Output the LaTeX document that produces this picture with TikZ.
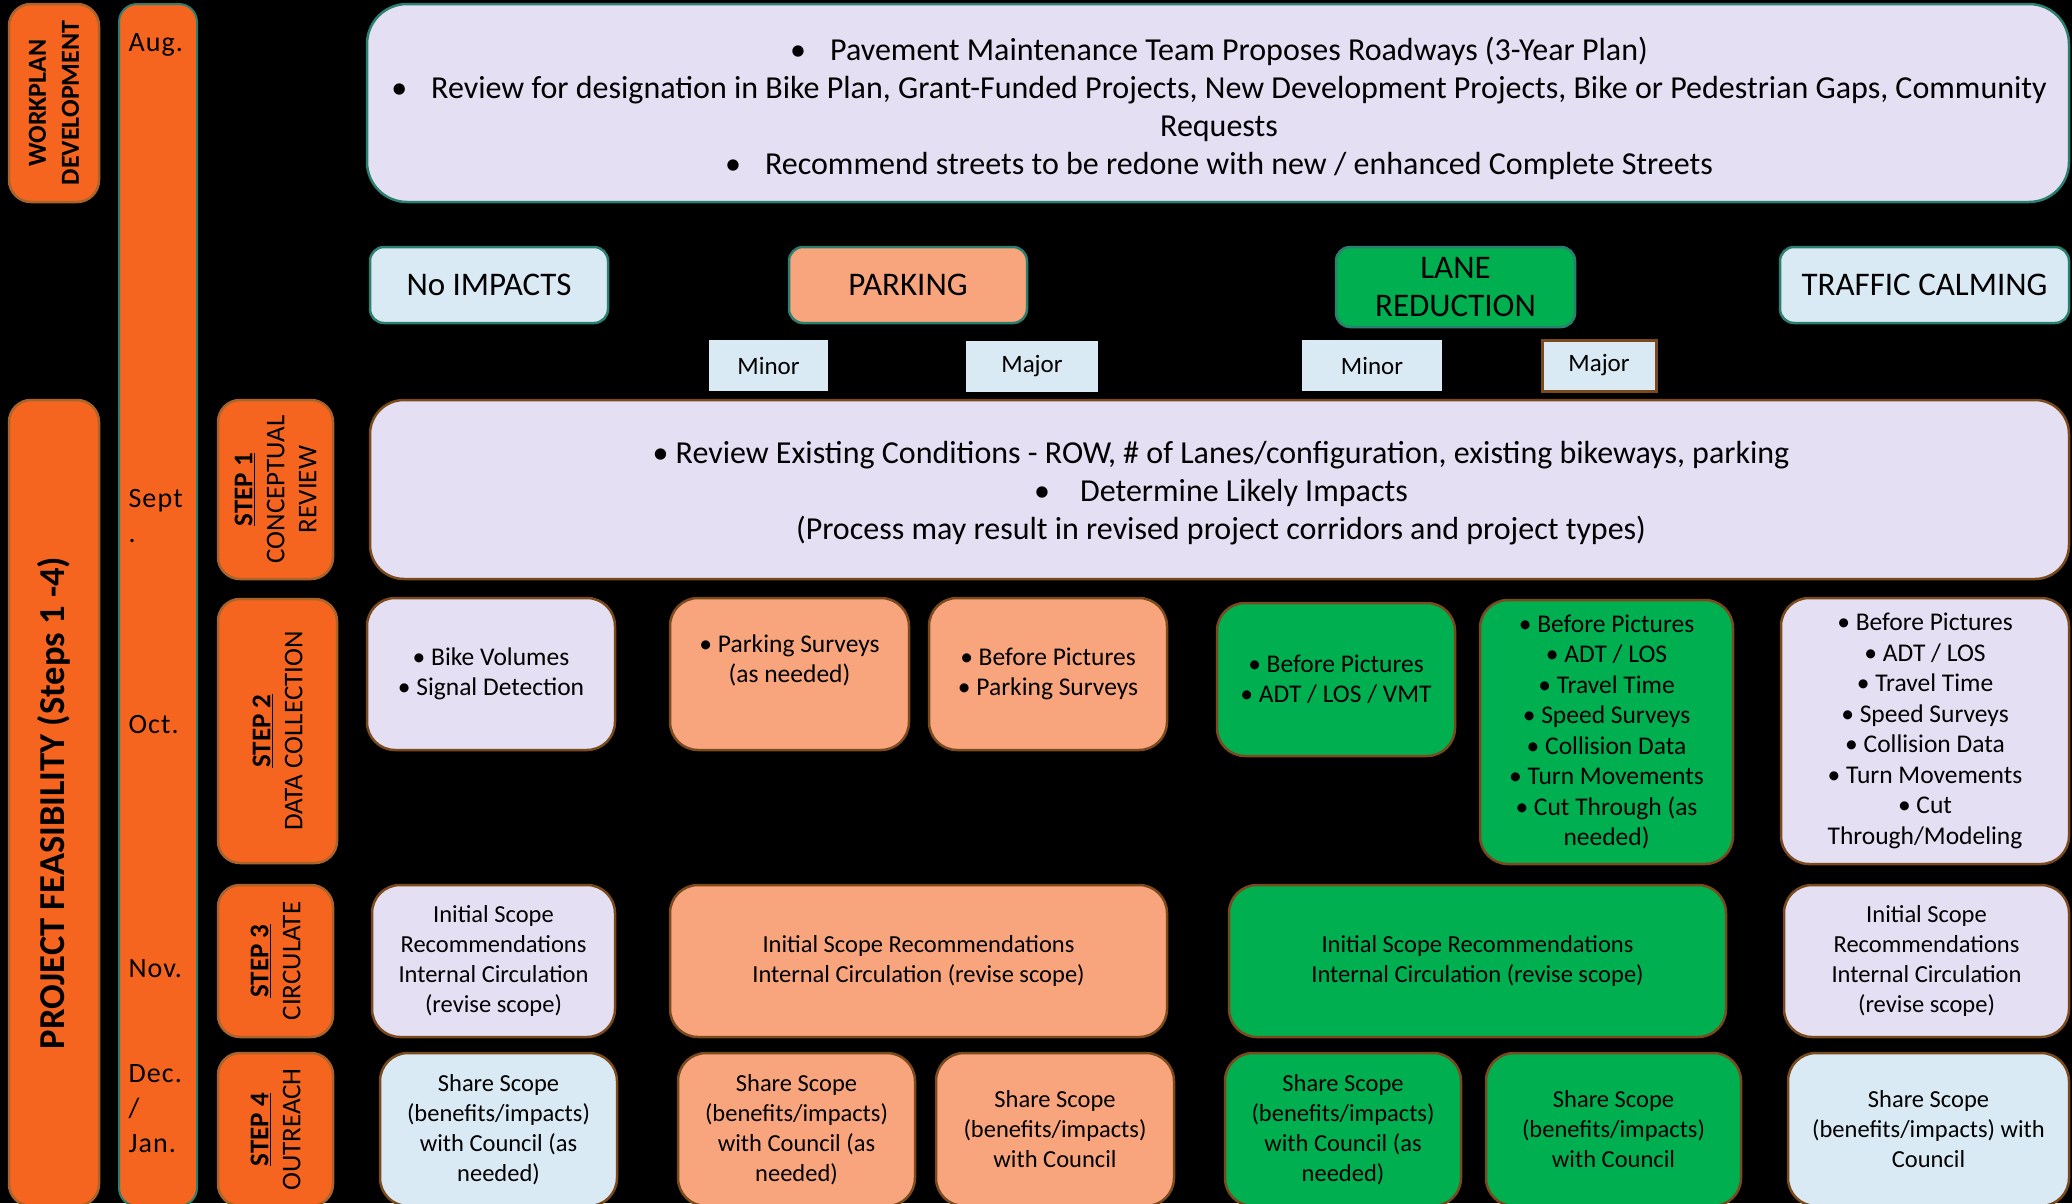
\documentclass[tikz,border=0pt]{standalone}
\usepackage{fontspec}
\setmainfont{Carlito}
\usetikzlibrary{positioning}

\definecolor{orng}{HTML}{F6651F}
\definecolor{orngline}{HTML}{A8642A}
\definecolor{lav}{HTML}{E5DFF3}
\definecolor{sky}{HTML}{DAEAF5}
\definecolor{salm}{HTML}{F8A57D}
\definecolor{grn}{HTML}{00AF50}
\definecolor{tealline}{HTML}{2B7F6E}
\definecolor{brn}{HTML}{7A4A1C}

\newcommand\cellfont{\fontsize{24.5}{30}\selectfont}
\newcommand\datafont{\fontsize{25.5}{30.5}\selectfont}
\newcommand\bigfont{\fontsize{32}{38}\selectfont}
\newcommand\catfont{\fontsize{33}{38}\selectfont}
\newcommand\stepfont{\fontsize{27}{32}\selectfont}
\newcommand\monthfont{\fontsize{28}{35}\selectfont\addfontfeature{LetterSpace=4}}

\tikzset{
  cellbox/.style={draw=brn, line width=2.5pt, rounded corners=28pt, align=center,
    inner sep=0pt, outer sep=0pt, font=\cellfont, minimum height=152pt},
  databox/.style={cellbox, font=\datafont},
  catbox/.style={draw=tealline, line width=2.5pt, rounded corners=14pt, align=center,
    inner sep=0pt, outer sep=0pt, font=\catfont, minimum height=76pt},
  tagbox/.style={fill=sky, inner sep=0pt, outer sep=0pt, font=\fontsize{25}{30}\selectfont,
    minimum height=51pt},
  stepbox/.style={fill=orng, draw=orngline, line width=2.5pt, rounded corners=22pt,
    inner sep=0pt, outer sep=0pt, minimum width=115pt},
  steptext/.style={rotate=90, align=center, font=\stepfont},
  monthtext/.style={anchor=west, align=left, font=\monthfont}
}

\begin{document}
\begin{tikzpicture}[x=1pt,y=-1pt]
\useasboundingbox (0,0) rectangle (2072,1203);
\fill[black] (0,0) rectangle (2072,1203);

% left columns
\node[stepbox, minimum width=90pt, minimum height=198pt](work) at (54,103){};
\node[rotate=90, align=center, font=\fontsize{26}{33}\selectfont\bfseries] at (work.center){WORKPLAN\\DEVELOPMENT};
\node[fill=orng, draw=tealline, line width=2pt, rounded corners=18pt, minimum width=78pt,
  minimum height=1202pt, inner sep=0pt](months) at (158,605){};
\node[stepbox, minimum width=90pt, minimum height=806pt](feas) at (54,803){};
\node[rotate=90, font=\fontsize{36.5}{40}\selectfont\bfseries] at (feas.center){PROJECT FEASIBILITY (Steps 1 -4)};

% months
\node[monthtext](aug) at (125,45){Aug.};
\node[monthtext](sep) at (125,516){Sept\\.};
\node[monthtext](oct) at (125,725){Oct.};
\node[monthtext](nov) at (125,969){Nov.};
\node[monthtext](dec) at (125,1109){Dec.\\/\\Jan.};

% steps
\node[stepbox, minimum height=179pt](s1) at (275.5,489.5){};
\node[steptext] at (s1.center){\underline{\textbf{STEP 1}}\\CONCEPTUAL\\REVIEW};
\node[stepbox, minimum width=119pt, minimum height=264pt](s2) at (277.5,731){};
\node[steptext] at (s2.center){\underline{\textbf{STEP 2}}\\DATA COLLECTION};
\node[stepbox, minimum height=152pt](s3) at (275.5,961){};
\node[steptext] at (s3.center){\underline{\textbf{STEP 3}}\\CIRCULATE};
\node[stepbox, minimum height=153pt](s4) at (275.5,1129.5){};
\node[steptext] at (s4.center){\underline{\textbf{STEP 4}}\\OUTREACH};

% workplan box
\node[cellbox, draw=tealline, fill=lav, rounded corners=40pt, minimum width=1702pt,
  minimum height=198pt, font=\bigfont](plan) at (1218,103){};
\node[align=center, font=\bigfont] at (1219,108){%
  \textbullet\hspace{24pt}Pavement Maintenance Team Proposes Roadways (3-Year Plan)\\
  \textbullet\hspace{24pt}Review for designation in Bike Plan, Grant-Funded Projects, New Development Projects, Bike or Pedestrian Gaps, Community\\
  Requests\\
  \textbullet\hspace{24pt}Recommend streets to be redone with new / enhanced Complete Streets};

% impact categories
\node[catbox, fill=sky, minimum width=238pt](noimp) at (489,285){No IMPACTS};
\node[catbox, fill=salm, minimum width=238pt](park) at (908,285){PARKING};
\node[catbox, fill=grn, minimum width=239pt, minimum height=80pt](lane) at (1455.5,287){LANE\\REDUCTION};
\node[catbox, fill=sky, minimum width=289pt](calm) at (1924.5,285){TRAFFIC CALMING};

\node[tagbox, minimum width=119pt](pminor) at (768.5,365.5){Minor};
\node[tagbox, minimum width=132pt](pmajor) at (1032,366.5){Major};
\node[tagbox, minimum width=140pt](lminor) at (1372,365.5){Minor};
\node[tagbox, minimum width=114pt, draw=brn, line width=3pt](lmajor) at (1599,365.5){Major};

% step 1
\node[cellbox, fill=lav, rounded corners=34pt, minimum width=1699pt, minimum height=179pt](review) at (1219.5,489.5){};
\node[align=center, font=\bigfont] at (1221,493){%
  \textbullet\ Review Existing Conditions - ROW, \# of Lanes/configuration, existing bikeways, parking\\
  \textbullet\hspace{30pt}Determine Likely Impacts\\
  (Process may result in revised project corridors and project types)};

% step 2
\node[databox, fill=lav, minimum width=248pt](nodata) at (491,674){\textbullet\ Bike Volumes\\\textbullet\ Signal Detection};
\node[databox, fill=salm, minimum width=239pt, right=55pt of nodata](pdata1){\textbullet\ Parking Surveys\\(as needed)\\\mbox{}};
\node[databox, fill=salm, minimum width=238pt, right=20pt of pdata1](pdata2){\textbullet\ Before Pictures\\\textbullet\ Parking Surveys};
\node[databox, fill=grn, minimum width=238pt, minimum height=153pt](ldata1) at (1336,679.5){\textbullet\ Before Pictures\\\textbullet\ ADT / LOS / VMT};
\node[databox, fill=grn, minimum width=253pt, minimum height=264pt](ldata2) at (1606.5,732){%
  \textbullet\ Before Pictures\\\textbullet\ ADT / LOS\\\textbullet\ Travel Time\\\textbullet\ Speed Surveys\\
  \textbullet\ Collision Data\\\textbullet\ Turn Movements\\\textbullet\ Cut Through (as\\needed)};
\node[databox, fill=lav, minimum width=288pt, minimum height=266pt](cdata) at (1925,731){%
  \textbullet\ Before Pictures\\\textbullet\ ADT / LOS\\\textbullet\ Travel Time\\\textbullet\ Speed Surveys\\
  \textbullet\ Collision Data\\\textbullet\ Turn Movements\\\textbullet\ Cut\\Through/Modeling};

% step 3
\node[cellbox, fill=lav, minimum width=243pt](nocirc) at (493.5,961){Initial Scope\\Recommendations\\Internal Circulation\\(revise scope)};
\node[cellbox, fill=salm, minimum width=497pt](pcirc) at (918.5,961){Initial Scope Recommendations\\Internal Circulation (revise scope)};
\node[cellbox, fill=grn, minimum width=497pt](lcirc) at (1477.5,961){Initial Scope Recommendations\\Internal Circulation (revise scope)};
\node[cellbox, fill=lav, minimum width=285pt](ccirc) at (1926.5,961){Initial Scope\\Recommendations\\Internal Circulation\\(revise scope)};

% step 4
\node[cellbox, fill=sky, minimum width=237pt, minimum height=153pt](noout) at (498.5,1129.5){Share Scope\\(benefits/impacts)\\with Council (as\\needed)};
\node[cellbox, fill=salm, minimum width=237pt, minimum height=153pt](pout1) at (796.5,1129.5){Share Scope\\(benefits/impacts)\\with Council (as\\needed)};
\node[cellbox, fill=salm, minimum width=238pt, minimum height=153pt, right=21pt of pout1](pout2){Share Scope\\(benefits/impacts)\\with Council};
\node[cellbox, fill=grn, minimum width=236pt, minimum height=153pt](lout1) at (1343,1129.5){Share Scope\\(benefits/impacts)\\with Council (as\\needed)};
\node[cellbox, fill=grn, minimum width=255pt, minimum height=153pt, right=25pt of lout1](lout2){Share Scope\\(benefits/impacts)\\with Council};
\node[cellbox, fill=sky, minimum width=281pt, minimum height=153pt](cout) at (1928.5,1129.5){Share Scope\\(benefits/impacts) with\\Council};
\end{tikzpicture}
\end{document}
